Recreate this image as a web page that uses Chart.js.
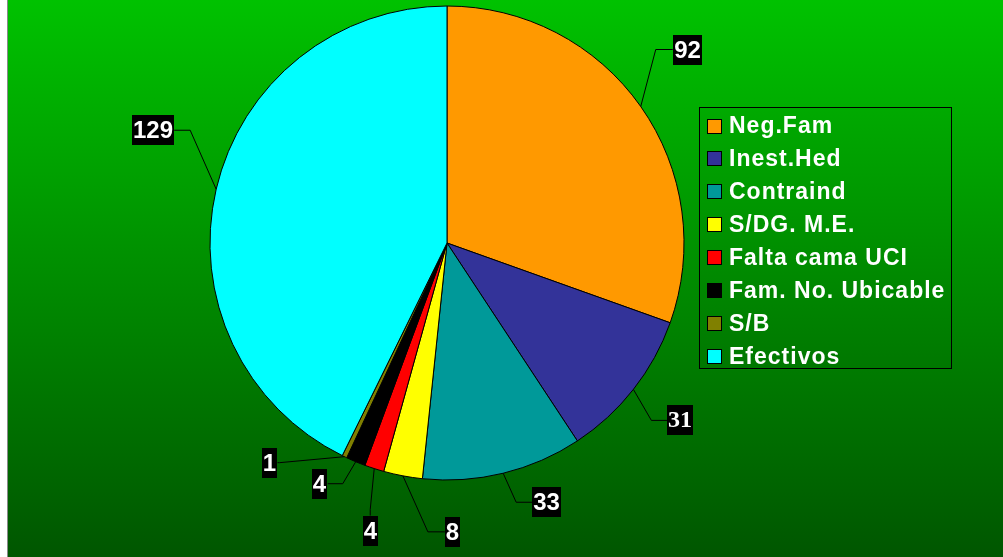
<!DOCTYPE html>
<html>
<head>
<meta charset="utf-8">
<script src="https://cdn.jsdelivr.net/npm/chart.js@4/dist/chart.umd.min.js"></script>
<style>
  html, body { margin: 0; padding: 0; background: #fff; }
  canvas { display: block; }
</style>
</head>
<body>
<canvas id="pieChart" width="1003" height="557"></canvas>
<script>
const categories = ['Neg.Fam', 'Inest.Hed', 'Contraind', 'S/DG. M.E.', 'Falta cama UCI', 'Fam. No. Ubicable', 'S/B', 'Efectivos'];
const values = [92, 31, 33, 8, 4, 4, 1, 129];
const sliceColors = ['#ff9900', '#333399', '#009999', '#ffff00', '#ff0000', '#000000', '#808000', '#00ffff'];

// leader lines: elbow offset from the slice edge, then a short tail to the label box
const leaders = [
    { dx: 15, dy: -57, dir: 'right', len: 17 },
    { dx: 18, dy: 31, dir: 'right', len: 16 },
    { dx: 13, dy: 29, dir: 'right', len: 16 },
    { dx: 25, dy: 56, dir: 'right', len: 17 },
    { dx: -4, dy: 41, dir: 'down', len: 6 },
    { dx: -13, dy: 22, dir: 'left', len: 15 },
    { dx: -65, dy: 6, dir: 'left', len: 2 },
    { dx: -26, dy: -59, dir: 'left', len: 16 }
];
const labelFonts = ['Liberation Sans', 'Liberation Serif', 'Liberation Sans', 'Liberation Sans',
    'Liberation Sans', 'Liberation Sans', 'Liberation Sans', 'Liberation Sans'];

const backgroundPlugin = {
    id: 'greenBackground',
    beforeDraw(chart) {
        const ctx = chart.ctx;
        const w = chart.width, h = chart.height;
        ctx.save();
        ctx.fillStyle = '#ffffff';
        ctx.fillRect(0, 0, w, h);
        ctx.fillStyle = '#8a8a8a';
        ctx.fillRect(7, 0, 1, h);
        const g = ctx.createLinearGradient(0, 0, 0, h);
        g.addColorStop(0, '#00c200');
        g.addColorStop(1, '#005600');
        ctx.fillStyle = g;
        ctx.fillRect(8, 0, w - 8, h);
        ctx.restore();
    }
};

const legendBoxPlugin = {
    id: 'legendBox',
    afterDraw(chart) {
        const ctx = chart.ctx;
        const x = 699, y = 107, w = 253, h = 262;
        ctx.save();
        const g = ctx.createLinearGradient(0, y, 0, y + h);
        g.addColorStop(0, '#00aa00');
        g.addColorStop(1, '#007700');
        ctx.fillStyle = g;
        ctx.fillRect(x, y, w, h);
        ctx.strokeStyle = '#000';
        ctx.lineWidth = 1;
        ctx.strokeRect(x + 0.5, y + 0.5, w - 1, h - 1);
        ctx.font = 'bold 23px "Liberation Sans", Arial, sans-serif';
        ctx.letterSpacing = '1px';
        ctx.textBaseline = 'middle';
        categories.forEach((name, i) => {
            const cy = 126 + i * 32.9;
            ctx.fillStyle = sliceColors[i];
            ctx.fillRect(707, Math.round(cy - 7.5), 15, 15);
            ctx.strokeStyle = '#000';
            ctx.strokeRect(707.5, Math.round(cy - 7.5) + 0.5, 14, 14);
            ctx.fillStyle = '#ffffff';
            ctx.fillText(name, 729, cy + 1);
        });
        ctx.restore();
    }
};

const valueLabelsPlugin = {
    id: 'valueLabels',
    afterDatasetsDraw(chart) {
        const ctx = chart.ctx;
        const arcs = chart.getDatasetMeta(0).data;
        ctx.save();
        arcs.forEach((arc, i) => {
            const mid = (arc.startAngle + arc.endAngle) / 2;
            const ex = arc.x + Math.cos(mid) * arc.outerRadius;
            const ey = arc.y + Math.sin(mid) * arc.outerRadius;
            const lead = leaders[i];
            const bx = ex + lead.dx, by = ey + lead.dy;
            let tx = bx, ty = by;
            if (lead.dir === 'right') tx += lead.len;
            else if (lead.dir === 'left') tx -= lead.len;
            else ty += lead.len;
            ctx.strokeStyle = '#000';
            ctx.lineWidth = 1;
            ctx.beginPath();
            ctx.moveTo(ex, ey);
            ctx.lineTo(bx, by);
            ctx.lineTo(tx, ty);
            ctx.stroke();

            const text = String(values[i]);
            ctx.font = 'bold 24px "' + labelFonts[i] + '", sans-serif';
            const tw = ctx.measureText(text).width + 2;
            const th = 30;
            let rx, ry;
            if (lead.dir === 'right') { rx = tx; ry = ty - th / 2; }
            else if (lead.dir === 'left') { rx = tx - tw; ry = ty - th / 2; }
            else { rx = tx - tw / 2; ry = ty; }
            ctx.fillStyle = '#000';
            ctx.fillRect(Math.round(rx), Math.round(ry), Math.round(tw), th);
            ctx.fillStyle = '#fff';
            ctx.textAlign = 'center';
            ctx.textBaseline = 'middle';
            ctx.fillText(text, Math.round(rx) + Math.round(tw) / 2, Math.round(ry) + th / 2 + 1);
        });
        ctx.restore();
    }
};

const ctx = document.getElementById('pieChart').getContext('2d');
const pieChart = new Chart(ctx, {
    type: 'pie',
    data: {
        labels: categories,
        datasets: [{
            data: values,
            backgroundColor: sliceColors,
            borderColor: '#000000',
            borderWidth: 1
        }]
    },
    options: {
        responsive: false,
        animation: false,
        radius: 237,
        layout: {
            padding: { left: 207, right: 316, top: 3, bottom: 74 }
        },
        plugins: {
            legend: { display: false },
            tooltip: { enabled: false }
        }
    },
    plugins: [backgroundPlugin, valueLabelsPlugin, legendBoxPlugin]
});
</script>
</body>
</html>
